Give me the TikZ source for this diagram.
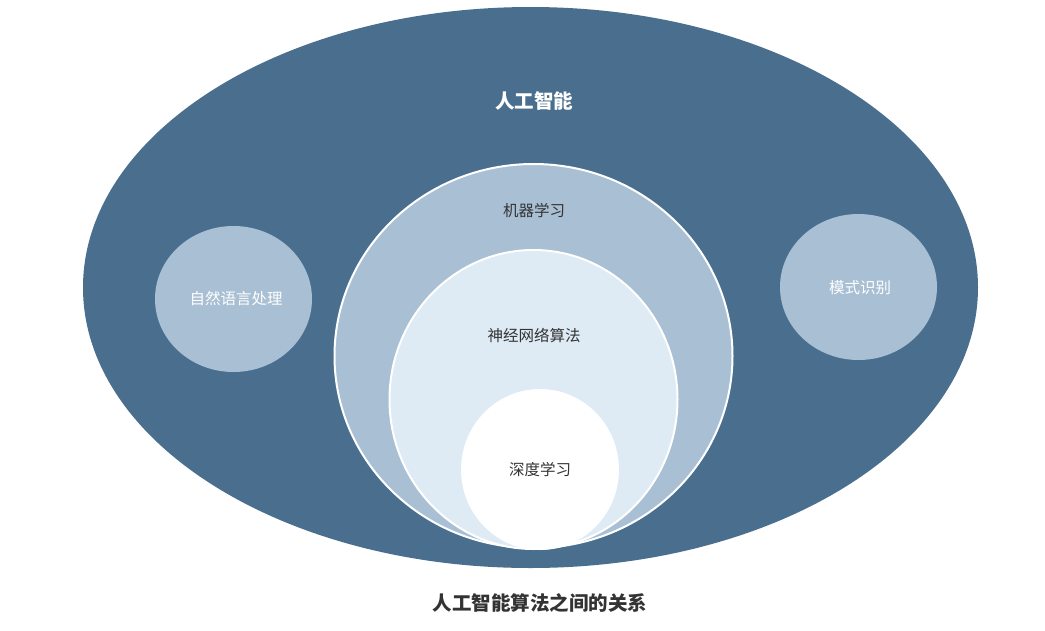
\documentclass[tikz,border=0pt]{standalone}
\usepackage{fontspec}
\setmainfont{Noto Sans CJK SC}
\definecolor{darkblue}{HTML}{4A6F8E}
\definecolor{midblue}{HTML}{A8BFD4}
\definecolor{lightblue}{HTML}{DEEAF4}
\definecolor{txtgray}{HTML}{333333}
\tikzset{
  blob/.style={ellipse, inner sep=0pt},
  lbl/.style={font=\fontsize{15.5}{17}\selectfont, inner sep=0pt},
  ring/.style={draw=white, line width=2pt}
}
\usetikzlibrary{shapes.geometric}
\begin{document}
\begin{tikzpicture}[x=1pt,y=-1pt]
\useasboundingbox[fill=white] (0,0) rectangle (1045,630);
\node[blob, fill=darkblue, minimum width=895, minimum height=561] (ai) at (530.5,287.5) {};
\node[blob, fill=midblue, minimum width=157, minimum height=146] (nlp) at (233.5,299) {};
\node[blob, fill=midblue, minimum width=157, minimum height=146] (pr) at (858.5,287) {};
\node[blob, fill=midblue, ring, minimum width=398, minimum height=384] (ml) at (533.5,356) {};
\node[blob, fill=lightblue, ring, minimum width=288, minimum height=299] (nn) at (533.5,399.5) {};
\node[blob, fill=white, minimum width=158, minimum height=161] (dl) at (540,469.5) {};
\node[lbl, font=\fontsize{19.5}{21}\selectfont\bfseries, text=white] (tai) at (534,101) {人工智能};
\node[lbl, text=white] (tnlp) at (236,299) {自然语言处理};
\node[lbl, text=white] (tpr) at (860,288) {模式识别};
\node[lbl, text=txtgray] (tml) at (534,211) {机器学习};
\node[lbl, text=txtgray] (tnn) at (534,336) {神经网络算法};
\node[lbl, text=txtgray] (tdl) at (540,470) {深度学习};
\node[lbl, font=\fontsize{19.5}{21}\selectfont\bfseries, text=txtgray] (cap) at (540,603) {人工智能算法之间的关系};
\end{tikzpicture}
\end{document}
